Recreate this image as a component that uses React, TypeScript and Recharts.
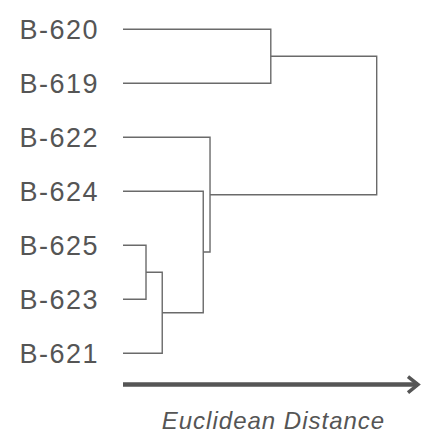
import React from 'react';
import { LineChart, Line, XAxis, YAxis, ReferenceLine, Label } from 'recharts';

const leaves = ['B-620', 'B-619', 'B-622', 'B-624', 'B-625', 'B-623', 'B-621'];
const mergeLeft = [4, 7, 3, 2, 0, 11];
const mergeRight = [5, 6, 8, 9, 1, 10];
const mergeHeight = [7.8, 13.3, 27.2, 29.5, 50.1, 86.0];
const axisTitle = 'Euclidean Distance';
const axisMax = 100;
const arrowRow = 6.58;
const leafTicks = [0, 1, 2, 3, 4, 5, 6];

type Pt = { x: number; y: number };

function buildSegments(): Pt[][] {
  const nodeX: number[] = leaves.map(() => 0);
  const nodeY: number[] = leaves.map((_, i) => i);
  const segs: Pt[][] = [];
  mergeHeight.forEach((h, k) => {
    const a = mergeLeft[k];
    const b = mergeRight[k];
    segs.push([
      { x: nodeX[a], y: nodeY[a] },
      { x: h, y: nodeY[a] },
      { x: h, y: nodeY[b] },
      { x: nodeX[b], y: nodeY[b] },
    ]);
    nodeX.push(h);
    nodeY.push((nodeY[a] + nodeY[b]) / 2);
  });
  return segs;
}

const segments = buildSegments();
const FONT = '"Liberation Sans", Arial, sans-serif';

export default function App() {
  return (
    <div style={{ position: 'absolute', left: 0, top: 0, width: 421, height: 433, background: '#fff' }}>
      <LineChart
        width={421}
        height={433}
        margin={{ top: 29.3, right: 3, bottom: 25.7, left: 0 }}
      >
        <defs>
          <marker
            id="arrowHead"
            markerUnits="userSpaceOnUse"
            markerWidth={16}
            markerHeight={22}
            refX={13}
            refY={11}
            orient="auto"
          >
            <path d="M3,3 L13,11 L3,19" fill="none" stroke="#555" strokeWidth={3.5} />
          </marker>
        </defs>
        <XAxis type="number" dataKey="x" domain={[0, axisMax]} hide />
        <YAxis
          type="number"
          dataKey="y"
          domain={[0, 7]}
          reversed
          ticks={leafTicks}
          tickFormatter={(v: number) => leaves[v] ?? ''}
          width={123}
          axisLine={false}
          tickLine={false}
          tickSize={0}
          tickMargin={24}
          interval={0}
          tick={{ fill: '#555', fontSize: 27, fontFamily: FONT, letterSpacing: 1.5 }}
        />
        {segments.map((seg, i) => (
          <Line
            key={i}
            data={seg}
            dataKey="y"
            type="linear"
            stroke="#6a6a6a"
            strokeWidth={1.4}
            dot={false}
            activeDot={false}
            isAnimationActive={false}
            strokeLinejoin="miter"
            strokeLinecap="butt"
          />
        ))}
        <ReferenceLine
          segment={[
            { x: 0, y: arrowRow },
            { x: axisMax, y: arrowRow },
          ]}
          stroke="#555"
          strokeWidth={4.5}
          markerEnd="url(#arrowHead)"
          ifOverflow="visible"
        >
          <Label
            value={axisTitle}
            position="bottom"
            offset={27.5}
            dx={3}
            fill="#555"
            fontSize={24}
            fontStyle="italic"
            fontFamily={FONT}
            letterSpacing={1}
          />
        </ReferenceLine>
      </LineChart>
    </div>
  );
}
